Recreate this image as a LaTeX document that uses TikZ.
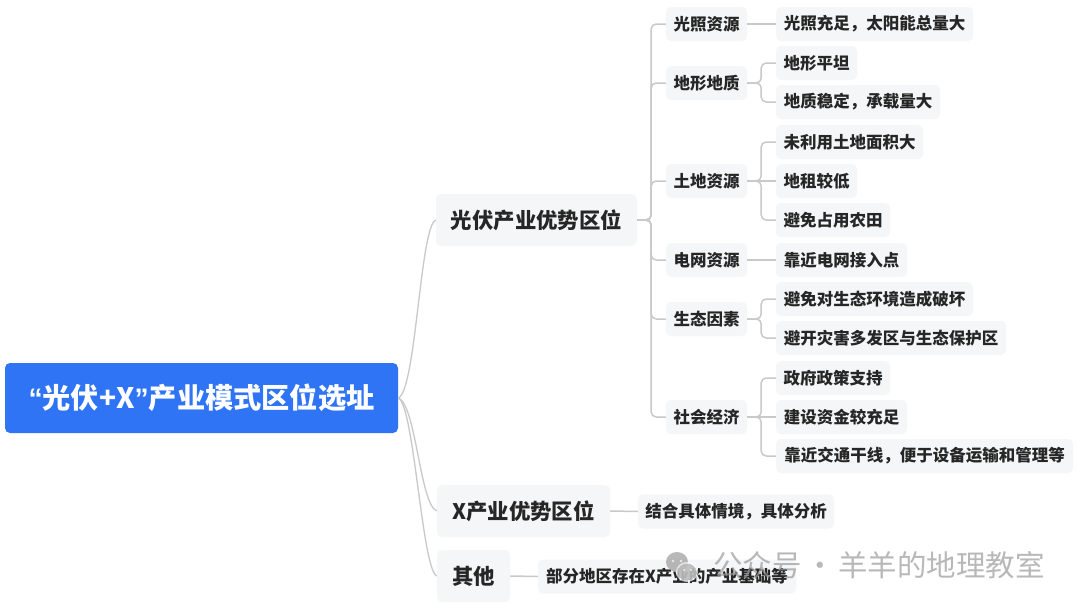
\documentclass[tikz,border=0pt]{standalone}
\usepackage{fontspec}
\setmainfont{Noto Sans CJK SC}
\newfontfamily\latf{Liberation Sans}
\begin{document}
\begin{tikzpicture}[x=1pt,y=-1pt,
  box/.style={fill=boxgray,rounded corners=5pt,inner sep=0pt,text=textdark,font=\bfseries\fontsize{16.5}{18}\selectfont,minimum height=34pt,anchor=center},
  big/.style={box,font=\bfseries\fontsize{21.4}{24}\selectfont,minimum height=52pt},
  link/.style={draw=linegray,line width=1.5pt,rounded corners=5pt},
  rootlink/.style={draw=linegray,line width=1.3pt}]
\definecolor{boxgray}{HTML}{F5F6F7}
\definecolor{textdark}{HTML}{262626}
\definecolor{linegray}{HTML}{C9C9C9}
\definecolor{rootblue}{HTML}{2F74F5}
\definecolor{wmgray}{HTML}{9A9A9A}
\useasboundingbox (0,0) rectangle (1080,608);
\fill[white] (0,0) rectangle (1080,608);
\node[fill=rootblue,rounded corners=5pt,minimum width=393pt,minimum height=70pt,inner sep=0pt,text=white,font=\bfseries\fontsize{28.2}{30}\selectfont] (root) at (201.5,398) {{\latf “}光伏+X{\latf ”}产业模式区位选址};
\node[big,minimum width=201pt] (a) at (536.5,220) {光伏产业优势区位};
\node[big,minimum width=173pt] (b) at (523.5,511) {X产业优势区位};
\node[big,minimum width=73pt] (c) at (473.5,576) {其他};
\foreach \n/\y/\t in {a1/24/光照资源,a2/83/地形地质,a3/181/土地资源,a4/260/电网资源,a5/319/生态因素,a6/417/社会经济}
  \node[box,minimum width=81pt] (\n) at (706.5,\y) {\t};
\foreach \n/\w/\y/\t in {
  p1/197/24/光照充足，太阳能总量大,
  p2/81/63/地形平坦,
  p3/164/102/地质稳定，承载量大,
  p4/147/142/未利用土地面积大,
  p5/81/181/地租较低,
  p6/114/220/避免占用农田,
  p7/131/260/靠近电网接入点,
  p8/197/299/避免对生态环境造成破坏,
  p9/230/338/避开灾害多发区与生态保护区,
  p10/114/378/政府政策支持,
  p11/131/417/建设资金较充足,
  p12/297/456/靠近交通干线，便于设备运输和管理等}
  \node[box,minimum width=\w pt] (\n) at ({776+\w/2},\y) {\t};
\node[box,minimum width=196pt] (b1) at (736,511.5) {结合具体情境，具体分析};
\node[box,minimum width=258pt] (c1) at (667,576.5) {部分地区存在X产业的产业基础等};
% root connectors
\draw[rootlink] (root.east) .. controls (416,392) and (420,226) .. (a.west);
\draw[rootlink] (root.east) .. controls (416,404) and (420,505) .. (b.west);
\draw[rootlink] (root.east) .. controls (414,404) and (422,570) .. (c.west);
% level 1 bus
\foreach \n in {a1,a2,a3,a4,a5,a6}
  \draw[link] (a.east) -- ++(14,0) |- (\n.west);
% level 2 links
\draw[link] (a1.east) -- (p1.west);
\draw[link] (a2.east) -- ++(14,0) |- (p2.west);
\draw[link] (a2.east) -- ++(14,0) |- (p3.west);
\draw[link] (a3.east) -- ++(14,0) |- (p4.west);
\draw[link] (a3.east) -- (p5.west);
\draw[link] (a3.east) -- ++(14,0) |- (p6.west);
\draw[link] (a4.east) -- (p7.west);
\draw[link] (a5.east) -- ++(14,0) |- (p8.west);
\draw[link] (a5.east) -- ++(14,0) |- (p9.west);
\draw[link] (a6.east) -- ++(14,0) |- (p10.west);
\draw[link] (a6.east) -- (p11.west);
\draw[link] (a6.east) -- ++(14,0) |- (p12.west);
\draw[link] (b.east) -- (b1.west);
\draw[link] (c.east) -- (c1.west);
% watermark
\begin{scope}[opacity=0.7]
\fill[wmgray] (677,562) ellipse (11pt and 10pt);
\fill[white] (687,572) ellipse (11pt and 10pt);
\fill[wmgray!85] (687,572) ellipse (9.5pt and 8.5pt);
\fill[white] (673,561) circle (1.4pt) (681,561) circle (1.4pt);
\fill[white] (684,570) circle (1.2pt) (691,570) circle (1.2pt);
\node[text=wmgray,inner sep=0pt,anchor=west,font=\fontsize{29.5}{32}\selectfont] (wm) at (713,565) {公众号\hspace{3.5pt}·\hspace{3.5pt}羊羊的地理教室};
\end{scope}
\end{tikzpicture}
\end{document}
